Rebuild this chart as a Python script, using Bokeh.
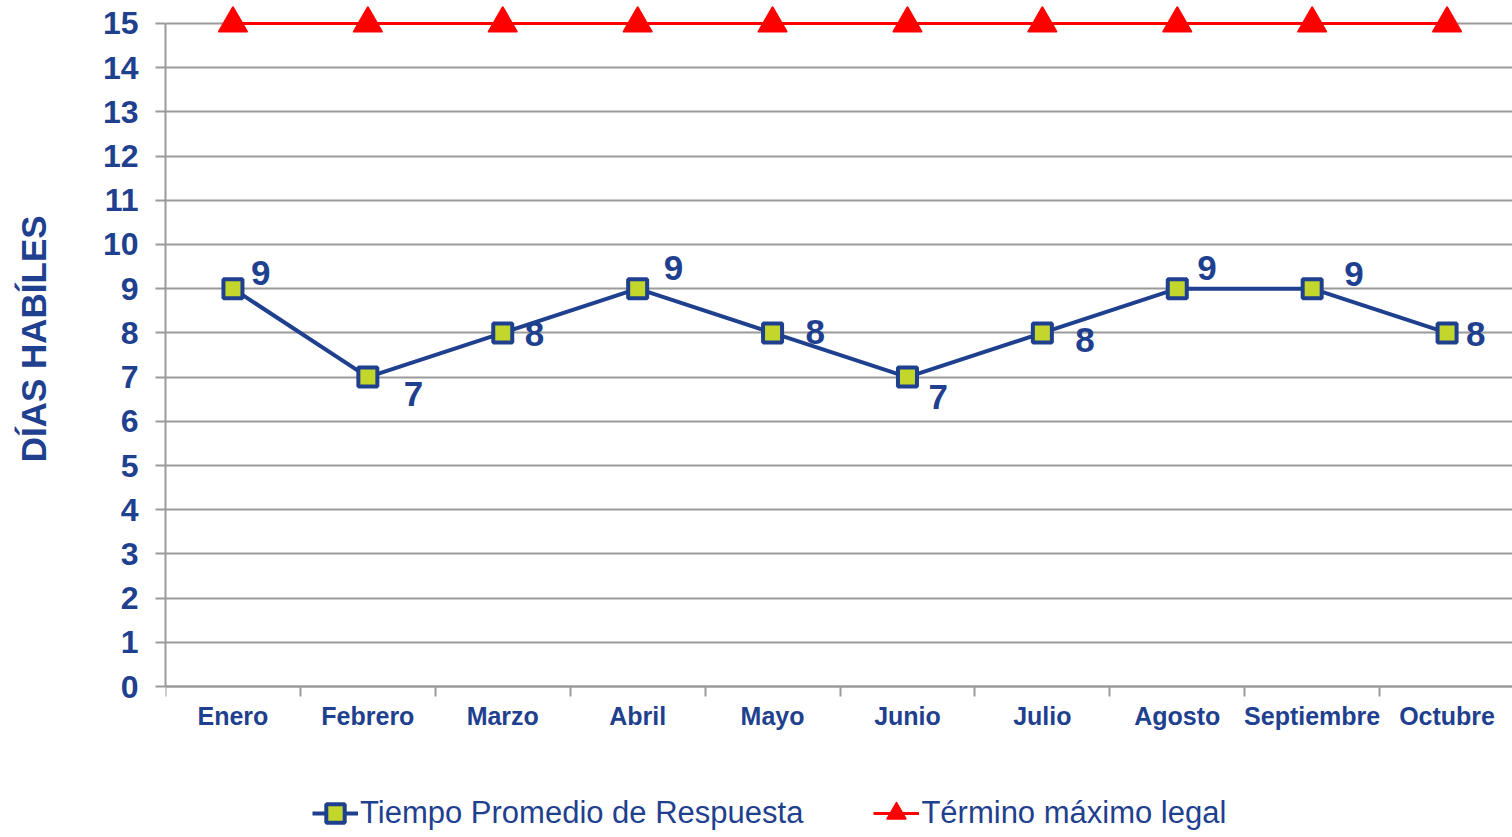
from bokeh.plotting import figure
from bokeh.models import (ColumnDataSource, Range1d, FixedTicker, Legend, LegendItem,
                          LinearAxis)
from bokeh.core.properties import value
from bokeh.embed import file_html
from bokeh.resources import INLINE

months = ["Enero", "Febrero", "Marzo", "Abril", "Mayo", "Junio", "Julio",
          "Agosto", "Septiembre", "Octubre"]
tiempo = [9, 7, 8, 9, 8, 7, 8, 9, 9, 8]
termino = [15, 15, 15, 15, 15, 15, 15, 15, 15, 15]
y_ticks = list(range(0, 16))
y_title = "DÍAS HABÍLES"

# label offsets (style only, screen px)
lab_dx = [18, 36, 22, 26, 33, 21, 33, 20, 32, 19]
lab_dy = [-16, 17, 1, -21, -1, 20, 7, -21, -15, 1]

BLUE = "#1F3F8F"
GREEN = "#C3D62B"
RED = "#FF0000"
GRID = "#9A9A9A"
FONT = "Liberation Sans"

xpos = [i + 0.5 for i in range(len(months))]
src = ColumnDataSource(dict(x=xpos, y=tiempo, t=termino,
                            lab=[str(v) for v in tiempo], dx=lab_dx, dy=lab_dy))

p = figure(width=1512, height=837, output_backend="svg", toolbar_location=None,
           x_range=Range1d(0, 9.985), y_range=Range1d(-3.416, 15.407),
           min_border_left=165, min_border_top=5, min_border_right=0,
           min_border_bottom=0)
p.outline_line_color = None
p.background_fill_color = "white"
p.border_fill_color = "white"

# grid
p.xgrid.grid_line_color = None
p.ygrid.ticker = FixedTicker(ticks=y_ticks)
p.ygrid.grid_line_color = GRID
p.ygrid.grid_line_width = 2

# y axis
p.yaxis.ticker = FixedTicker(ticks=y_ticks)
p.yaxis.bounds = (0, 15)
p.yaxis.axis_line_color = GRID
p.yaxis.axis_line_width = 2
p.yaxis.major_tick_line_color = GRID
p.yaxis.major_tick_line_width = 2
p.yaxis.major_tick_in = 0
p.yaxis.major_tick_out = 10
p.yaxis.minor_tick_line_color = None
p.yaxis.major_label_text_font = FONT
p.yaxis.major_label_text_font_style = "bold"
p.yaxis.major_label_text_font_size = "32px"
p.yaxis.major_label_text_color = BLUE
p.yaxis.major_label_standoff = 17

# axis title on a tick-less axis; leading no-break spaces lift it to the
# reference position (the label is centred on the whole frame)
title_axis = LinearAxis(axis_label="\u00a0" * 17 + y_title, bounds=(0, 15),
                        ticker=FixedTicker(ticks=[]), axis_line_color=None,
                        major_tick_line_color=None, minor_tick_line_color=None,
                        major_tick_in=0, major_tick_out=0, minor_tick_in=0,
                        minor_tick_out=0, major_label_standoff=0,
                        axis_label_standoff=47, axis_label_text_font=FONT,
                        axis_label_text_font_style="bold",
                        axis_label_text_font_size="35px",
                        axis_label_text_color=BLUE)
p.add_layout(title_axis, "left")

# x axis, fixed at y = 0
p.xaxis.fixed_location = 0
p.xaxis.ticker = FixedTicker(ticks=xpos, minor_ticks=list(range(0, 11)))
p.xaxis.major_label_overrides = {x: m for x, m in zip(xpos, months)}
p.xaxis.axis_line_color = GRID
p.xaxis.axis_line_width = 2
p.xaxis.major_tick_line_color = None
p.xaxis.major_tick_in = 0
p.xaxis.major_tick_out = 0
p.xaxis.minor_tick_line_color = GRID
p.xaxis.minor_tick_line_width = 2
p.xaxis.minor_tick_in = 0
p.xaxis.minor_tick_out = 10
p.xaxis.major_label_text_font = FONT
p.xaxis.major_label_text_font_style = "bold"
p.xaxis.major_label_text_font_size = "25px"
p.xaxis.major_label_text_color = BLUE
p.xaxis.major_label_standoff = 5

# series
l1 = p.line("x", "y", source=src, line_color=BLUE, line_width=4)
s1 = p.scatter("x", "y", source=src, marker="square", size=19,
               fill_color=GREEN, line_color=BLUE, line_width=4)
l2 = p.line("x", "t", source=src, line_color=RED, line_width=3)
s2 = p.scatter("x", "t", source=src, marker="triangle", size=28,
               fill_color=RED, line_color=RED, line_width=2, line_join="round")

p.text("x", "y", text="lab", source=src, x_offset="dx", y_offset="dy",
       text_font=value(FONT), text_font_style="bold", text_font_size="35px",
       text_color=BLUE, text_align="left", text_baseline="middle")

legend = Legend(items=[LegendItem(label="Tiempo Promedio de Respuesta", renderers=[l1, s1]),
                       LegendItem(label="Término máximo legal", renderers=[l2, s2])],
                orientation="horizontal", location=(147, 1),
                border_line_color=None, background_fill_alpha=0,
                label_text_font=FONT, label_text_font_size="31px",
                label_text_color=BLUE, glyph_width=46, glyph_height=46,
                label_height=30, label_standoff=2, spacing=70, padding=0, margin=0)
p.add_layout(legend, "center")

open("out.html", "w").write(file_html(p, INLINE))
